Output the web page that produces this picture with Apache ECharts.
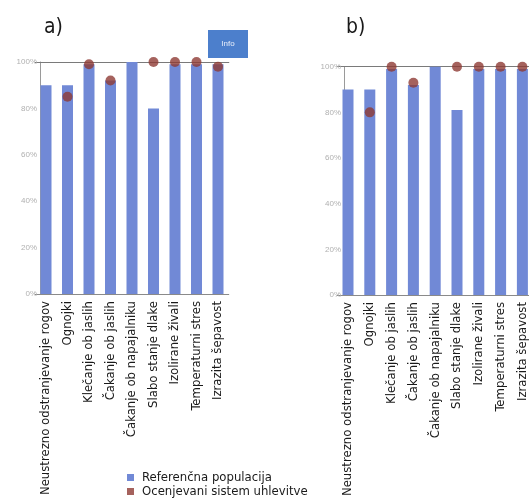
<!DOCTYPE html>
<html>
<head>
<meta charset="utf-8">
<script src="https://cdn.jsdelivr.net/npm/echarts@6/dist/echarts.min.js"></script>
<style>html,body{margin:0;padding:0;background:#fff}#c{width:529px;height:500px}</style>
</head>
<body>
<div id="c"></div>
<script>
var categories = ['Neustrezno odstranjevanje rogov','Ognojki','Klečanje ob jaslih','Čakanje ob jaslih','Čakanje ob napajalniku','Slabo stanje dlake','Izolirane živali','Temperaturni stres','Izrazita šepavost'];
var refA = [90, 90, 99, 92, 100, 80, 99, 99, 99];
var sysA = [null, 85, 99, 92, null, 100, 100, 100, 98];
var refB = [90, 90, 99, 92, 100, 81, 99, 99, 99];
var sysB = [null, 80, 100, 93, null, 100, 100, 100, 100];
var yTicks = [0, 20, 40, 60, 80, 100];

var FONT = '"Liberation Sans Narrow", "DejaVu Sans Condensed", "Liberation Sans", sans-serif';
var BAR = '#7189d6';
var DOT = '#8f3b34';

var chart = echarts.init(document.getElementById('c'), null, {renderer: 'canvas'});

function xCat(gi) {
  return {
    type: 'category', gridIndex: gi, data: categories, position: 'bottom',
    axisLine: {show: true, lineStyle: {color: '#8a8a8a', width: 1}},
    axisTick: {show: false},
    axisLabel: {rotate: 90, fontSize: 13, color: '#1a1a1a', fontFamily: FONT, margin: 7, interval: 0, hideOverlap: false}
  };
}
function xTop(gi) {
  return {
    type: 'category', gridIndex: gi, data: categories, position: 'top',
    axisLine: {show: true, lineStyle: {color: '#7a7a7a', width: 1.2}},
    axisTick: {show: false}, axisLabel: {show: false}
  };
}
function yVal(gi, off) {
  return {
    type: 'value', gridIndex: gi, min: 0, max: 100, interval: 20, offset: off,
    axisLine: {show: true, lineStyle: {color: '#9a9a9a', width: 1}},
    axisTick: {show: false}, splitLine: {show: false},
    axisLabel: {fontSize: 8, color: '#b0b0b0', margin: 3, fontFamily: 'Liberation Sans', formatter: function (v) { return yTicks.indexOf(v) >= 0 ? v + '%' : ''; }}
  };
}

function legendItem(name, top) {
  return {
    orient: 'vertical', left: 127, top: top, itemWidth: 7, itemHeight: 7, icon: 'rect',
    textStyle: {fontSize: 13, color: '#1a1a1a', fontFamily: FONT, padding: [0, 0, 0, 3]},
    itemGap: 0, padding: 0,
    data: [name]
  };
}

chart.setOption({
  animation: false,
  backgroundColor: '#fff',
  title: [
    {text: 'a)', left: 39, top: 12, textStyle: {fontSize: 21, fontWeight: 'normal', color: '#1a1a1a', fontFamily: FONT}},
    {text: 'b)', left: 341, top: 12, textStyle: {fontSize: 21, fontWeight: 'normal', color: '#1a1a1a', fontFamily: FONT}}
  ],
  grid: [
    {left: 35.25, width: 193.5, top: 62, height: 232, containLabel: false, outerBoundsMode: 'none'},
    {left: 337.1, width: 196.2, top: 66.7, height: 228.3, containLabel: false, outerBoundsMode: 'none'}
  ],
  xAxis: [xCat(0), xCat(1), xTop(0), xTop(1)],
  yAxis: [yVal(0, -4.75), yVal(1, -6.9)],
  legend: [
    legendItem('Referenčna populacija', 471),
    legendItem('Ocenjevani sistem uhlevitve', 485)
  ],
  graphic: [
    {type: 'rect', shape: {x: 208, y: 30, width: 40, height: 28}, style: {fill: '#4c7fcc'}},
    {type: 'text', x: 228, y: 44, style: {text: 'Info', fill: '#e8eefa', fontSize: 8, fontFamily: 'Liberation Sans', align: 'center', verticalAlign: 'middle'}}
  ],
  series: [
    {name: 'Referenčna populacija', type: 'bar', xAxisIndex: 0, yAxisIndex: 0, data: refA, barWidth: 11, itemStyle: {color: BAR}},
    {name: 'Ocenjevani sistem uhlevitve', type: 'scatter', xAxisIndex: 0, yAxisIndex: 0, data: sysA, symbolSize: 10, itemStyle: {color: DOT}, z: 5},
    {name: 'Referenčna populacija', type: 'bar', xAxisIndex: 1, yAxisIndex: 1, data: refB, barWidth: 11, itemStyle: {color: BAR}},
    {name: 'Ocenjevani sistem uhlevitve', type: 'scatter', xAxisIndex: 1, yAxisIndex: 1, data: sysB, symbolSize: 10, itemStyle: {color: DOT}, z: 5}
  ]
});
</script>
</body>
</html>
